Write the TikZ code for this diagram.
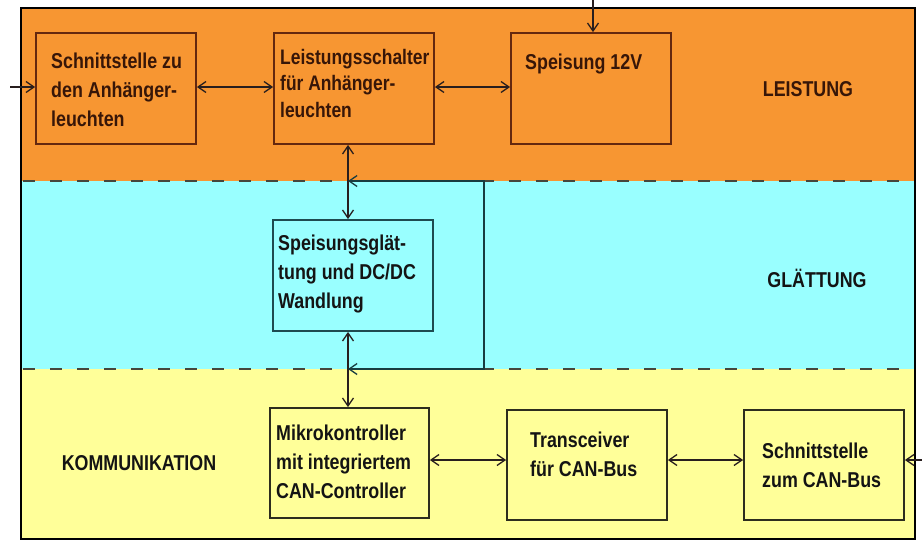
\documentclass[tikz,border=0pt]{standalone}
\usepackage{fontspec}
\newfontfamily\nar{Liberation Sans}[FakeStretch=0.83]
\usetikzlibrary{arrows.meta,calc}
\definecolor{orangebg}{RGB}{247,150,50}
\definecolor{cyanbg}{RGB}{153,255,255}
\definecolor{yellowbg}{RGB}{255,255,153}
\definecolor{obord}{RGB}{100,40,15}
\definecolor{cbord}{RGB}{30,75,80}
\definecolor{ybord}{RGB}{45,45,30}
\definecolor{otext}{RGB}{55,22,8}
\definecolor{dtext}{RGB}{20,20,20}
\definecolor{dashc}{RGB}{70,70,60}
\definecolor{arrc}{RGB}{40,30,30}
\begin{document}
\begin{tikzpicture}[x=1pt,y=-1pt,
  >={Straight Barb[length=8pt,width=11pt,line width=1.3pt]},
  blk/.style={draw, line width=1.8pt, inner sep=0pt, minimum width=160pt, minimum height=111pt},
  txt/.style={anchor=north west, inner sep=0pt, align=left, font={\nar\bfseries\fontsize{21.5}{29}\selectfont}},
  lbl/.style={inner sep=0pt, font={\nar\bfseries\fontsize{21.5}{25}\selectfont}},
  conn/.style={draw=arrc, line width=1.4pt},
  sep/.style={draw=dashc, line width=2.2pt, dash pattern=on 12pt off 15pt}]
\useasboundingbox (0,0) rectangle (922,542);
\fill[white] (0,0) rectangle (922,542);
% bands
\fill[orangebg] (21,8) rectangle (915,181);
\fill[cyanbg] (21,181) rectangle (915,369);
\fill[yellowbg] (21,369) rectangle (915,539);
\draw[sep] (23,181) -- (915,181);
\draw[sep] (23,369) -- (915,369);
\draw[black, line width=2.2pt] (21,8) rectangle (915,539);
% boxes
\node[blk, draw=obord] (b1) at (116,88.5) {};
\node[blk, draw=obord] (b2) at (354,88.5) {};
\node[blk, draw=obord] (b3) at (591,88.5) {};
\node[blk, draw=cbord] (b4) at (353,275.5) {};
\node[blk, draw=ybord, minimum width=159pt, minimum height=110pt] (b5) at (349.5,463) {};
\node[blk, draw=ybord, minimum height=110pt] (b6) at (587,465) {};
\node[blk, draw=ybord, minimum height=110pt] (b7) at (824,465) {};
% box texts
\node[txt, text=otext] (t1) at (51,53) {Schnittstelle zu\\den Anhänger-\\leuchten};
\node[txt, text=otext, font={\nar\bfseries\fontsize{21}{26.5}\selectfont}] (t2) at (280,49) {Leistungsschalter\\für Anhänger-\\leuchten};
\node[txt, text=otext] (t3) at (525,54) {Speisung 12V};
\node[txt, text=dtext] (t4) at (278,235) {Speisungsglät-\\tung und DC/DC\\Wandlung};
\node[txt, text=dtext] (t5) at (276,425) {Mikrokontroller\\mit integriertem\\CAN-Controller};
\node[txt, text=dtext] (t6) at (530,432) {Transceiver\\für CAN-Bus};
\node[txt, text=dtext] (t7) at (762,443) {Schnittstelle\\zum CAN-Bus};
% region labels
\node[lbl, text=otext] (l1) at (808,89) {LEISTUNG};
\node[lbl, text=dtext] (l2) at (817,278) {GLÄTTUNG};
\node[lbl, text=dtext] (l3) at (139,463) {KOMMUNIKATION};
% coordinates
\coordinate (inl) at (10,87);
\coordinate (top) at (593,0);
\coordinate (inr) at (922,460);
\coordinate (vx) at (348,0);
\coordinate (j1) at (348,181);
\coordinate (j2) at (348,369);
\coordinate (c1) at (484,181);
\coordinate (c2) at (484,369);
% connectors
\draw[conn, ->] (inl) -- (inl -| b1.west);
\draw[conn, <->] (b1.east |- inl) -- (b2.west |- inl);
\draw[conn, <->] (b2.east |- inl) -- (b3.west |- inl);
\draw[conn, ->] (top) -- (top |- b3.north);
\draw[conn, <->] (vx |- b2.south) -- (vx |- b4.north);
\draw[conn, <->] (vx |- b4.south) -- (vx |- b5.north);
\draw[conn, line width=1.6pt, <->, draw=cbord!80!black] (j1) -- (c1) -- (c2) -- (j2);
\draw[conn, <->] (b5.east |- inr) -- (b6.west |- inr);
\draw[conn, <->] (b6.east |- inr) -- (b7.west |- inr);
\draw[conn, ->] (inr) -- (b7.east |- inr);
\end{tikzpicture}
\end{document}
